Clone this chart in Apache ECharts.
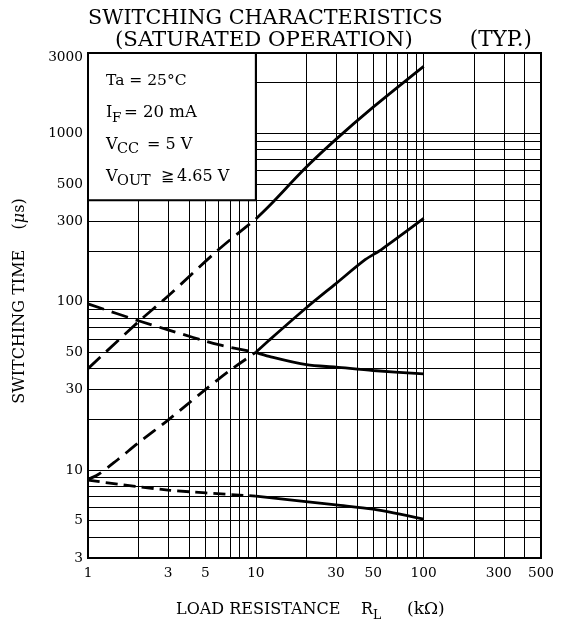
<!DOCTYPE html>
<html>
<head>
<meta charset="utf-8">
<script src="https://cdn.jsdelivr.net/npm/echarts@6/dist/echarts.min.js"></script>
<style>
html,body{margin:0;padding:0;background:#fff;}
#chart{width:563px;height:626px;}
</style>
</head>
<body>
<div id="chart"></div>
<script>
// ---- data ----
const xGrid = [1,2,3,4,5,6,7,8,9,10,20,30,40,50,60,70,80,90,100,200,300,400,500];
const yGrid = [3,4,5,6,7,8,9,10,20,30,40,50,60,70,80,100,200,300,400,500,600,700,800,900,1000,2000,3000];
const xLabels = [1,3,5,10,30,50,100,300];
const xLabelsEnd = [500];
const yLabels = [3,5,10,30,50,100,300,500,1000,3000];

const riseHighDash  = [[1,40],[2,76],[3,108],[6,204],[10,310]];
const riseHighSolid = [[10,310],[12,370],[20,630],[30,920],[50,1430],[100,2500]];
const riseLowDash   = [[1,8.8],[1.15,9.4],[1.5,11.5],[2,14.5],[3,19.8],[5,30],[7,39],[10,50]];
const riseLowSolid  = [[10,50],[12,59],[20,92],[30,128],[45,178],[56,204],[100,312]];
const fallHighDash  = [[1,97],[2,77],[3,68],[6,55.5],[10,50]];
const fallHighSolid = [[10,50],[12,47.3],[20,42.2],[30,40.8],[50,39],[100,37.2]];
const fallLowDash   = [[1,8.7],[3,7.6],[10,7.0]];
const fallLowSolid  = [[10,7.0],[30,6.2],[50,5.85],[100,5.1]];

const boxArea = [[1,400],[10,3000]];
const partialLine90 = [[1,90],[60,90]];

// ---- chart ----
const FONT = '"DejaVu Serif", "Liberation Serif", serif';
const TICK = 13.7;
const chart = echarts.init(document.getElementById('chart'), null, {renderer:'canvas'});

function lineSeries(data, dash) {
  return {
    type:'line', data:data, showSymbol:false, symbol:'none', smooth:0.3,
    animation:false, z:3, xAxisIndex:0,
    lineStyle:{color:'#000', width:2.8, type: dash ? dash : 'solid', cap:'butt'}
  };
}

function txt(text, x, y, size, opts) {
  opts = opts || {};
  const st = {
    text:text, font:(opts.weight||'normal') + ' ' + size + 'px ' + FONT,
    fill:'#000', align: opts.align || 'left', textAlign: opts.align || 'left',
    verticalAlign:'middle', textVerticalAlign:'middle'
  };
  if (opts.rich) st.rich = opts.rich;
  return { type:'text', x:x, y:y, rotation: opts.rotation || 0, z:10, style:st };
}

const series = [
  lineSeries(riseHighDash, [17,8]),
  lineSeries(riseHighSolid),
  lineSeries(riseLowDash, [15,8]),
  lineSeries(riseLowSolid),
  lineSeries(fallHighDash, [17,8]),
  lineSeries(fallHighSolid),
  lineSeries(fallLowDash, [12,6]),
  lineSeries(fallLowSolid)
];
series[0].markArea = {
  silent:true,
  itemStyle:{color:'#fff', borderColor:'#000', borderWidth:2},
  data:[[{coord:boxArea[0]},{coord:boxArea[1]}]]
};
series[1].markLine = {
  silent:true, symbol:['none','none'], label:{show:false},
  lineStyle:{color:'#000', width:1, type:'solid'},
  data:[[{coord:partialLine90[0]},{coord:partialLine90[1]}]]
};

const richTick = {
  s:{fontFamily:FONT, fontSize:TICK, color:'#000', padding:[0,10,0,0]},
  t:{fontFamily:FONT, fontSize:TICK, color:'#000', padding:[8,0,0,0]}
};

const option = {
  animation:false,
  backgroundColor:'#fff',
  grid:{left:88, right:22, top:53, bottom:68, show:true, borderColor:'#000', borderWidth:2, containLabel:false},
  xAxis:[{
    type:'log', logBase:10, min:1, max:500,
    axisLine:{show:true, lineStyle:{color:'#000', width:2}},
    axisTick:{show:false, customValues:xGrid},
    minorTick:{show:false},
    axisLabel:{customValues:xLabels, color:'#000', fontFamily:FONT, fontSize:TICK, margin:8,
      showMinLabel:true, hideOverlap:false, rich:richTick,
      formatter:function(v){ v = Math.round(v); return v === 300 ? '{s|300}' : String(v); }},
    splitLine:{show:true, lineStyle:{color:'#000', width:1}}
  },{
    type:'log', logBase:10, min:1, max:500, position:'bottom',
    axisLine:{show:false}, axisTick:{show:false}, splitLine:{show:false}, minorTick:{show:false},
    axisLabel:{customValues:xLabelsEnd, color:'#000', fontFamily:FONT, fontSize:TICK, margin:8,
      showMaxLabel:true, alignMaxLabel:'right',
      formatter:function(v){ return String(Math.round(v)); }}
  }],
  yAxis:{
    type:'log', logBase:10, min:3, max:3000,
    axisLine:{show:true, lineStyle:{color:'#000', width:2}},
    axisTick:{show:false, customValues:yGrid},
    minorTick:{show:false},
    axisLabel:{customValues:yLabels, color:'#000', fontFamily:FONT, fontSize:TICK, margin:5,
      showMinLabel:true, showMaxLabel:true, rich:richTick,
      formatter:function(v){ v = Math.round(v); return v === 3000 ? '{t|3000}' : String(v); }},
    splitLine:{show:true, lineStyle:{color:'#000', width:1}}
  },
  series:series,
  graphic:[
    txt('SWITCHING CHARACTERISTICS', 88, 19, 20.7),
    txt('(SATURATED OPERATION)', 115, 40, 21.3),
    txt('(TYP.)', 532, 40, 21.5, {align:'right'}),
    txt('SWITCHING TIME    ({i|\u03bc}s)', 20, 301, 16, {rotation:Math.PI/2, align:'center',
      rich:{i:{fontFamily:FONT, fontSize:16, fontStyle:'italic', fill:'#000', color:'#000'}}}),
    txt('LOAD RESISTANCE', 176, 610, 16),
    txt('R', 361, 610, 16),
    txt('L', 373, 616, 12.5),
    txt('(k\u03a9)', 407, 610, 17),
    txt('Ta = 25\u00b0C', 106, 81, 15.5),
    txt('I', 106, 113, 16),
    txt('F', 112, 118, 13.5),
    txt('= 20 mA', 124, 113, 16.5),
    txt('V', 106, 145, 16),
    txt('CC', 117, 149, 14.5),
    txt('= 5 V', 147, 145, 16),
    txt('V', 106, 177, 16),
    txt('OUT', 117, 181, 14.5),
    txt('\u2267', 161, 177, 16),
    txt('4.65 V', 177, 177, 16)
  ]
};
chart.setOption(option);
</script>
</body>
</html>
